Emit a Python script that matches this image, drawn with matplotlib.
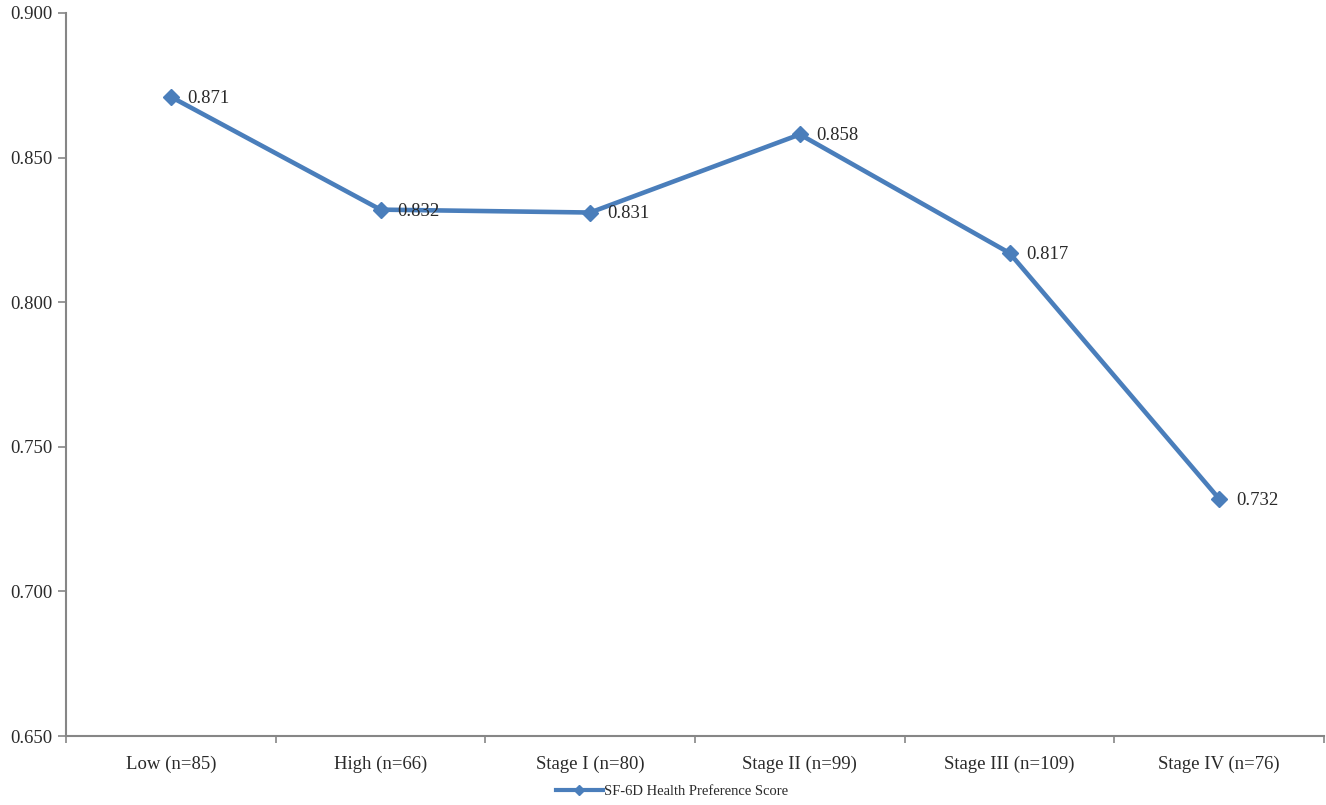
import numpy as np
import matplotlib
matplotlib.use('Agg')
import matplotlib.pyplot as plt
from matplotlib.ticker import FixedLocator, FormatStrFormatter
from matplotlib.lines import Line2D

# SF-6D scores by group
groups = ['Low (n=85)', 'High (n=66)', 'Stage I (n=80)', 'Stage II (n=99)',
          'Stage III (n=109)', 'Stage IV (n=76)']
scores = [0.871, 0.832, 0.831, 0.858, 0.817, 0.732]
y_ticks = [0.650, 0.700, 0.750, 0.800, 0.850, 0.900]

LINE_COLOR = '#4A7EBB'
AXIS_COLOR = '#868686'
TEXT_COLOR = '#2a2a2a'

plt.rcParams['font.family'] = ['Liberation Serif', 'DejaVu Serif']

fig = plt.figure(figsize=(13.26, 8.05), dpi=100)
ax = fig.add_axes([0.0498, 0.0857, 0.9487, 0.8982])

x = np.arange(len(groups))
ax.plot(x, scores, color=LINE_COLOR, linewidth=3.3, marker='D',
        markersize=8.5, markerfacecolor=LINE_COLOR, markeredgecolor=LINE_COLOR)

for xi, yi in zip(x, scores):
    ax.annotate(f'{yi:.3f}', (xi, yi), xytext=(12, -1), textcoords='offset points',
                ha='left', va='center', fontsize=13.5, color=TEXT_COLOR)

ax.set_xlim(-0.5, len(groups) - 0.5)
ax.set_ylim(0.650, 0.900)

# category labels centred, tick marks on category boundaries
ax.set_xticks(x)
ax.set_xticklabels(groups, fontsize=13.5, color=TEXT_COLOR)
ax.tick_params(axis='x', which='major', length=0, pad=14)
ax.xaxis.set_minor_locator(FixedLocator(np.arange(-0.5, len(groups), 1.0)))
ax.tick_params(axis='x', which='minor', length=5, width=1.2, color=AXIS_COLOR,
               direction='out')

ax.set_yticks(y_ticks)
ax.yaxis.set_major_formatter(FormatStrFormatter('%.3f'))
ax.tick_params(axis='y', length=6, width=1.2, color=AXIS_COLOR, direction='out',
               labelsize=13.5, labelcolor=TEXT_COLOR, pad=4)

for side in ['top', 'right']:
    ax.spines[side].set_visible(False)
for side in ['left', 'bottom']:
    ax.spines[side].set_color(AXIS_COLOR)
    ax.spines[side].set_linewidth(1.5)

handle = Line2D([0], [0], color=LINE_COLOR, linewidth=3.0, marker='D',
                markersize=5, markerfacecolor=LINE_COLOR)
fig.legend(handles=[handle], labels=['SF-6D Health Preference Score'],
           loc='center', bbox_to_anchor=(0.507, 0.017), frameon=False,
           fontsize=10.5, handlelength=3.2, handletextpad=0.1,
           labelcolor=TEXT_COLOR)

fig.savefig('out.png', dpi=100)
